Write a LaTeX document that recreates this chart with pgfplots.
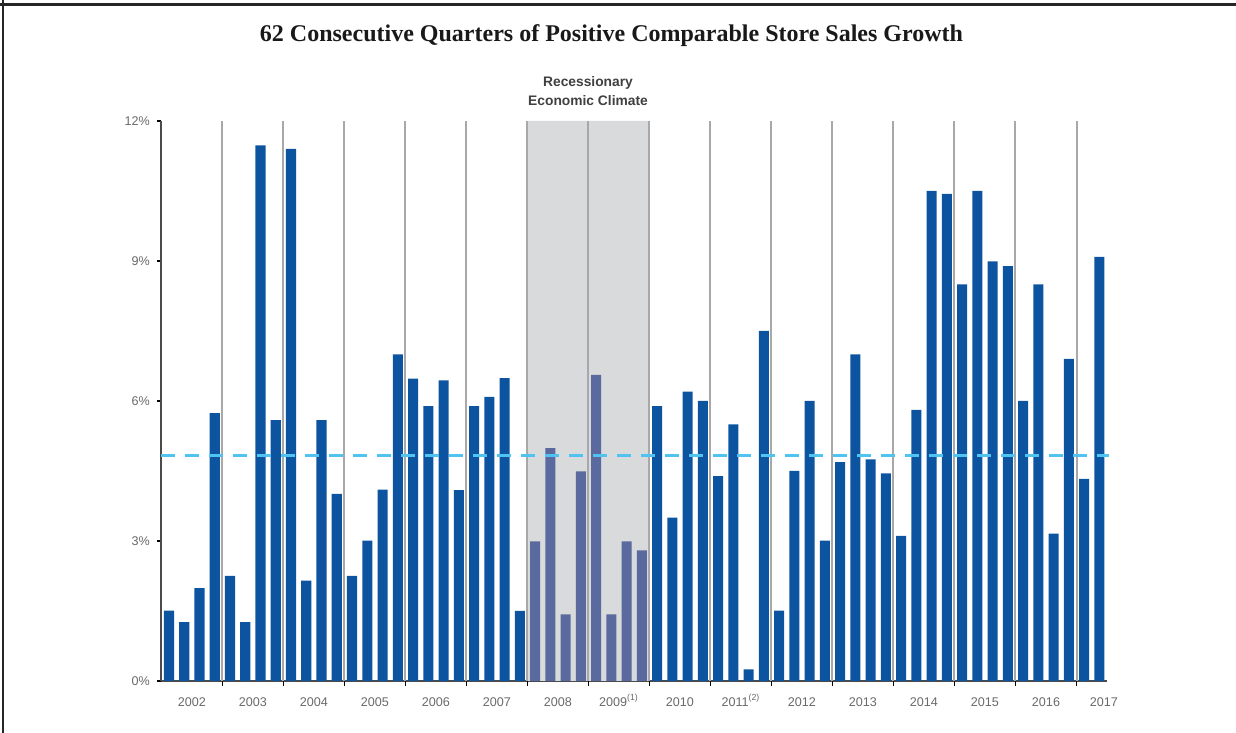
\documentclass[border=0pt]{standalone}
\usepackage{pgfplots}
\pgfplotsset{compat=1.18}
\usepackage{fontspec}
\setmainfont{Liberation Sans}
\newfontfamily\titlefont{Liberation Serif}
\definecolor{barblue}{RGB}{13,84,160}
\definecolor{recblue}{RGB}{90,105,158}
\definecolor{shade}{RGB}{217,218,220}
\definecolor{sepgray}{RGB}{168,168,168}
\definecolor{avgblue}{RGB}{80,195,240}
\definecolor{ticktext}{RGB}{105,105,105}
\definecolor{axisdark}{RGB}{75,75,75}
\begin{document}
\begin{tikzpicture}
\useasboundingbox (0,0) rectangle (618pt,366.5pt);
\draw[line width=1.3pt, black!85] (1.5pt,366.5pt) -- (1.5pt,0pt);
\draw[line width=1.5pt, black!85] (0pt,364pt) -- (618pt,364pt);
\node[font=\titlefont\bfseries\fontsize{12}{14}\selectfont, text=black!90] at (305.75pt,348.5pt)
  {62 Consecutive Quarters of Positive Comparable Store Sales Growth};
\node[align=center, font=\bfseries\fontsize{6.9}{9.5}\selectfont, text=black!75] at (294pt,320.75pt)
  {Recessionary\\Economic Climate};
\begin{axis}[
  at={(80.5pt,26pt)}, anchor=south west,
  scale only axis, width=473pt, height=280pt,
  xmin=-0.525, xmax=61.5, ymin=0, ymax=12,
  axis x line*=bottom, axis y line*=left,
  axis line style={-, line width=0.9pt, draw=axisdark},
  tick align=outside, major tick length=2pt,
  ytick={0,3,6,9,12}, yticklabels={0\%,3\%,6\%,9\%,12\%},
  yticklabel style={font=\fontsize{6.3}{7}\selectfont, text=ticktext},
  y tick style={draw=black, line width=0.6pt},
  xtick={1.5,5.5,9.5,13.5,17.5,21.5,25.5,29.5,33.5,37.5,41.5,45.5,49.5,53.5,57.5,61.3},
  xticklabels={2002,2003,2004,2005,2006,2007,2008,2009\textsuperscript{(1)},2010,2011\textsuperscript{(2)},2012,2013,2014,2015,2016,2017},
  xticklabel style={font=\fontsize{6.3}{7}\selectfont, text=ticktext, anchor=base, yshift=-10.5pt},
  x tick style={draw=none},
  extra x ticks={3.5,7.5,...,59.5}, extra x tick labels={},
  extra x tick style={x tick style={draw=black, line width=0.6pt}, major tick length=2.5pt},
  clip=false,
]
\addplot[fill=shade, draw=none] coordinates {(23.5,0) (23.5,12) (31.5,12) (31.5,0)} \closedcycle;
\addplot[ycomb, no marks, draw=sepgray, line width=1pt] coordinates {
 (3.5,12) (7.5,12) (11.5,12) (15.5,12) (19.5,12) (23.5,12) (27.5,12) (31.5,12)
 (35.5,12) (39.5,12) (43.5,12) (47.5,12) (51.5,12) (55.5,12) (59.5,12)};
\addplot[ybar, bar width=0.66, bar shift=0pt, fill=barblue, draw=none] coordinates {
 (0,1.51) (1,1.26) (2,1.99) (3,5.74)
 (4,2.25) (5,1.26) (6,11.48) (7,5.59)
 (8,11.40) (9,2.15) (10,5.59) (11,4.01)
 (12,2.25) (13,3.01) (14,4.10) (15,7.00)
 (16,6.48) (17,5.89) (18,6.44) (19,4.09)
 (20,5.89) (21,6.09) (22,6.49) (23,1.50)
 (32,5.89) (33,3.50) (34,6.20) (35,6.00)
 (36,4.39) (37,5.50) (38,0.25) (39,7.50)
 (40,1.51) (41,4.50) (42,6.00) (43,3.01)
 (44,4.69) (45,7.00) (46,4.75) (47,4.45)
 (48,3.11) (49,5.81) (50,10.50) (51,10.44)
 (52,8.50) (53,10.50) (54,8.99) (55,8.89)
 (56,6.00) (57,8.50) (58,3.16) (59,6.90)
 (60,4.33) (61,9.09)};
\addplot[ybar, bar width=0.66, bar shift=0pt, fill=recblue, draw=none] coordinates {
 (24,2.99) (25,4.99) (26,1.43) (27,4.49)
 (28,6.56) (29,1.43) (30,2.99) (31,2.80)};
\addplot[avgblue, line width=1.5pt, dash pattern=on 7pt off 5pt] coordinates {(-0.525,4.84) (61.65,4.84)};
\end{axis}
\end{tikzpicture}
\end{document}
